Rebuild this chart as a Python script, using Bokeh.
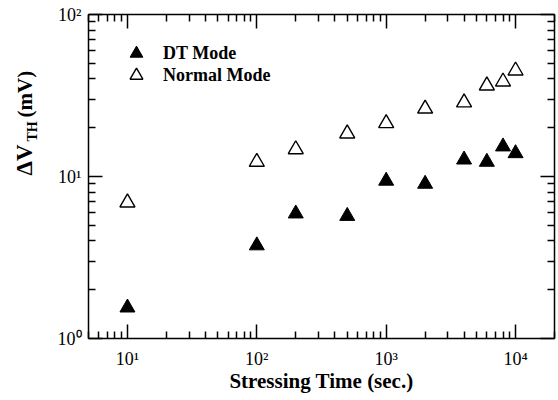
from bokeh.plotting import figure
from bokeh.layouts import row
from bokeh.models import (Range1d, LogAxis, FixedTicker, Label, Legend, LegendItem,
                          ColumnDataSource)
from bokeh.embed import file_html
from bokeh.resources import INLINE

# ---- data ----
time_s = [10, 100, 200, 500, 1000, 2000, 4000, 6000, 8000, 10000]
dt_mode = [1.55, 3.75, 5.9, 5.7, 9.4, 9.0, 12.7, 12.3, 15.3, 13.9]
normal_mode = [6.9, 12.3, 14.7, 18.4, 21.3, 26.2, 28.6, 36.4, 38.5, 45.0]

x_ticks = [10, 100, 1000, 10000]
x_tick_labels = ["10\u00b9", "10\u00b2", "10\u00b3", "10\u2074"]
y_ticks = [1, 10, 100]
y_tick_labels = ["10\u2070", "10\u00b9", "10\u00b2"]

FONT = "Liberation Serif"
LABEL_W = 45
W, H = 558, 400

src = ColumnDataSource(dict(t=time_s, dt=dt_mode, nm=normal_mode))

p = figure(width=W - LABEL_W, height=H, x_axis_type="log", y_axis_type="log",
           x_range=Range1d(5, 2e4), y_range=Range1d(1, 100),
           output_backend="svg", toolbar_location=None,
           min_border_left=88 - LABEL_W, min_border_right=4, min_border_top=14,
           min_border_bottom=62)
p.grid.visible = False
p.outline_line_color = None
p.background_fill_color = "white"

x_minor = [m * 10 ** e for e in range(0, 5) for m in range(2, 10)]
y_minor = [m * 10 ** e for e in range(0, 2) for m in range(2, 10)]


def style_axis(ax, ticks, minor, labels, show):
    ax.ticker = FixedTicker(ticks=ticks, minor_ticks=minor)
    ax.axis_line_width = 1.5
    ax.axis_line_color = "black"
    ax.major_tick_in = 14
    ax.major_tick_out = 0
    ax.minor_tick_in = 7
    ax.minor_tick_out = 0
    ax.major_tick_line_width = 1.5
    ax.minor_tick_line_width = 1.5
    ax.major_tick_line_color = "black"
    ax.minor_tick_line_color = "black"
    if show:
        ax.major_label_overrides = {t: l for t, l in zip(ticks, labels)}
        ax.major_label_text_font = FONT
        ax.major_label_text_font_size = "18px"
        ax.major_label_text_color = "black"
    else:
        ax.major_label_text_font_size = "0px"
        ax.major_label_standoff = 0
        ax.major_label_overrides = {t: "" for t in ticks}


xb = p.xaxis[0]
yl = p.yaxis[0]
style_axis(xb, x_ticks, x_minor, x_tick_labels, True)
style_axis(yl, y_ticks, y_minor, y_tick_labels, True)
xb.major_label_standoff = 10
yl.major_label_standoff = 7
xb.axis_label = "Stressing Time (sec.)"
xb.axis_label_text_font = FONT
xb.axis_label_text_font_style = "bold"
xb.axis_label_text_font_size = "21px"
xb.axis_label_standoff = -3
xb.axis_label_text_color = "black"

xt = LogAxis()
yr = LogAxis()
style_axis(xt, x_ticks, x_minor, x_tick_labels, False)
style_axis(yr, y_ticks, y_minor, y_tick_labels, False)
p.add_layout(xt, "above")
p.add_layout(yr, "right")

r_dt = p.scatter("t", "dt", source=src, marker="triangle", size=15,
                 fill_color="black", line_color="black", line_width=1)
r_nm = p.scatter("t", "nm", source=src, marker="triangle", size=15,
                 fill_color="white", line_color="black", line_width=1.4)

leg_common = dict(padding=0, margin=0, glyph_width=50, glyph_height=32,
                  label_standoff=2, label_text_font=FONT,
                  label_text_font_style="bold", label_text_font_size="18px",
                  label_text_color="black", border_line_color=None,
                  background_fill_alpha=0)
leg1 = Legend(items=[LegendItem(label="DT Mode", renderers=[r_dt])],
              location=(23, 269), **leg_common)
leg2 = Legend(items=[LegendItem(label="Normal Mode", renderers=[r_nm])],
              location=(23, 247), **leg_common)
p.add_layout(leg1)
p.add_layout(leg2)

# ---- y-axis title strip: ΔV_TH (mV) with subscript ----
lab = figure(width=LABEL_W, height=H, x_range=Range1d(0, LABEL_W),
             y_range=Range1d(0, H), output_backend="svg", toolbar_location=None,
             x_axis_location=None, y_axis_location=None,
             min_border=0, min_border_left=0, min_border_right=0,
             min_border_top=0, min_border_bottom=0)
lab.grid.visible = False
lab.outline_line_color = None
common = dict(x_units="screen", y_units="screen", angle=90, angle_units="deg",
              text_font=FONT, text_font_style="bold", text_align="left",
              text_baseline="middle", text_color="black")
lab.add_layout(Label(x=24, y=H - 237, text="\u0394V", text_font_size="23px", **common))
lab.add_layout(Label(x=32, y=H - 203, text="TH", text_font_size="14px", **common))
lab.add_layout(Label(x=24, y=H - 179, text="(mV)", text_font_size="21px", **common))

layout = row(lab, p, spacing=0)
open("out.html", "w").write(file_html(layout, INLINE))
